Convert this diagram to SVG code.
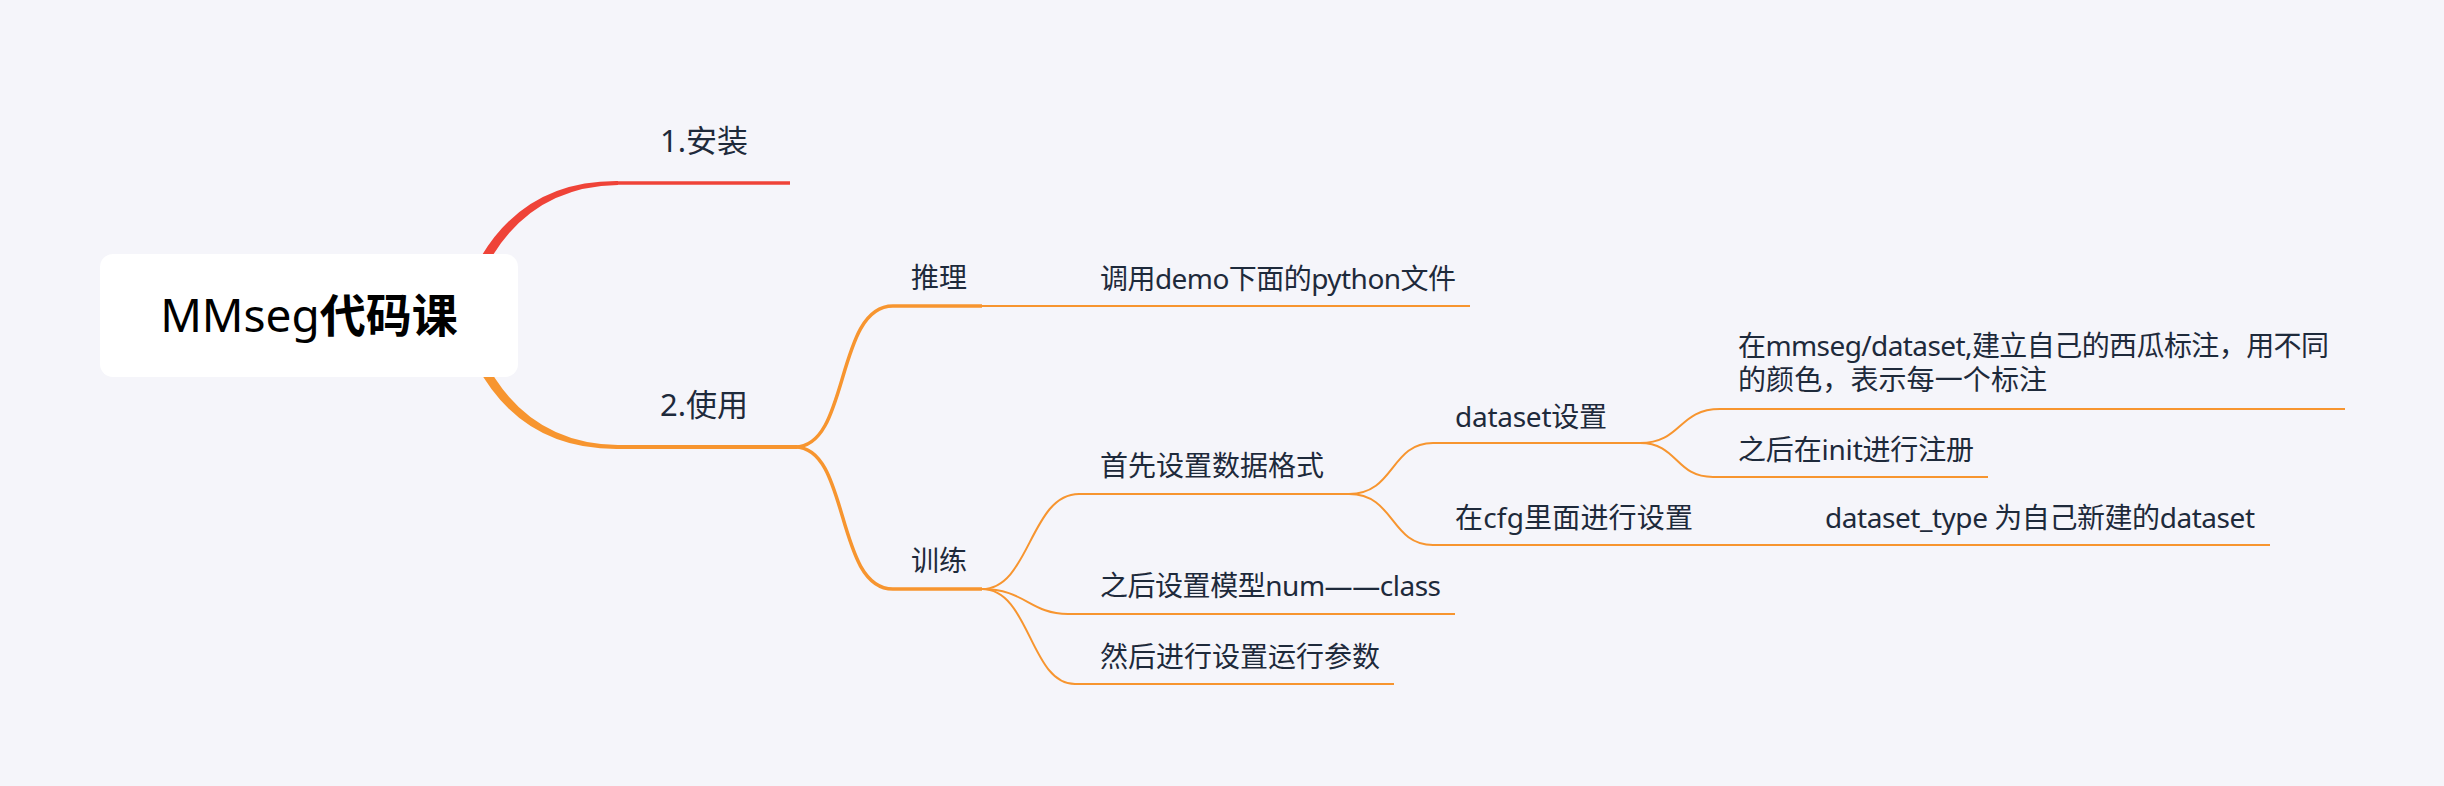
<svg xmlns="http://www.w3.org/2000/svg" width="2444" height="786" viewBox="0 0 2444 786">
<style>
  .t { font-family: "Noto Sans", "Noto Sans CJK SC", sans-serif; fill: #1e2a3b; }
  .top { font-size: 31px; }
  .sub { font-size: 28px; }
  .root { font-family: "Noto Sans", "Noto Sans CJK SC", sans-serif; font-size: 46px; fill: #000000; }
  .red { stroke: #ef4338; fill: none; }
  .org { stroke: #f7952f; fill: none; }
  .thick { stroke-width: 4; }
  .mid { stroke-width: 3.5; }
  .thin { stroke-width: 2; }
</style>
<rect x="0" y="0" width="2444" height="786" fill="#f5f5fa"/>
<g id="connectors">
  <path d="M 452,330 Q 490,180 618,181 L 618,185 Q 498,187 462,332 Z" fill="#ef4338"/>
  <line class="red mid" x1="616" y1="183" x2="790" y2="183"/>
  <path d="M 452,300 Q 490,450 618,449 L 618,445 Q 498,443 462,298 Z" fill="#f7952f"/>
  <line class="org thick" x1="616" y1="447" x2="797" y2="447"/>
  <path class="org mid" d="M 795,447 C 850,447 835,306 893,306 L 982,306"/>
  <path class="org mid" d="M 795,447 C 850,447 835,589 893,589 L 982,589"/>
  <line class="org thin" x1="982" y1="306" x2="1470" y2="306"/>
  <path class="org thin" d="M 982,589 C 1030,589 1030,494 1079,494 L 1349,494"/>
  <path class="org thin" d="M 982,589 C 1025,589 1030,614 1068,614 L 1455,614"/>
  <path class="org thin" d="M 982,589 C 1030,589 1030,684 1075,684 L 1394,684"/>
  <path class="org thin" d="M 1349,494 C 1395,494 1390,443 1433,443 L 1640,443"/>
  <path class="org thin" d="M 1349,494 C 1395,494 1390,545 1433,545 L 2270,545"/>
  <path class="org thin" d="M 1640,443 C 1682,443 1678,409 1720,409 L 2345,409"/>
  <path class="org thin" d="M 1640,443 C 1678,443 1675,477 1713,477 L 1988,477"/>
</g>
<g id="root">
  <rect x="100" y="254" width="418" height="123" rx="13" fill="#ffffff"/>
  <text class="root" x="309" y="332" text-anchor="middle">MMseg<tspan font-weight="bold">代码课</tspan></text>
</g>
<g id="n-install"><text class="t top" x="660" y="152">1.安装</text></g>
<g id="n-use"><text class="t top" x="660" y="416">2.使用</text></g>
<g id="n-infer"><text class="t sub" x="911" y="288">推理</text></g>
<g id="n-train"><text class="t sub" x="911" y="571">训练</text></g>
<g id="n-demo"><text class="t sub" x="1100" y="289" textLength="356" lengthAdjust="spacing">调用demo下面的python文件</text></g>
<g id="n-format"><text class="t sub" x="1100" y="476">首先设置数据格式</text></g>
<g id="n-model"><text class="t sub" x="1100" y="596" textLength="341" lengthAdjust="spacing">之后设置模型num——class</text></g>
<g id="n-params"><text class="t sub" x="1100" y="667">然后进行设置运行参数</text></g>
<g id="n-dataset"><text class="t sub" x="1455" y="427" textLength="152" lengthAdjust="spacing">dataset设置</text></g>
<g id="n-cfg"><text class="t sub" x="1455" y="528" textLength="238" lengthAdjust="spacing">在cfg里面进行设置</text></g>
<g id="n-type"><text class="t sub" x="1825" y="528" textLength="430" lengthAdjust="spacing">dataset_type 为自己新建的dataset</text></g>
<g id="n-mmseg"><text class="t sub"><tspan x="1738" y="356" textLength="591" lengthAdjust="spacing">在mmseg/dataset,建立自己的西瓜标注，用不同</tspan><tspan x="1738" y="390" textLength="309" lengthAdjust="spacing">的颜色，表示每一个标注</tspan></text></g>
<g id="n-init"><text class="t sub" x="1738" y="460" textLength="236" lengthAdjust="spacing">之后在init进行注册</text></g>
</svg>
